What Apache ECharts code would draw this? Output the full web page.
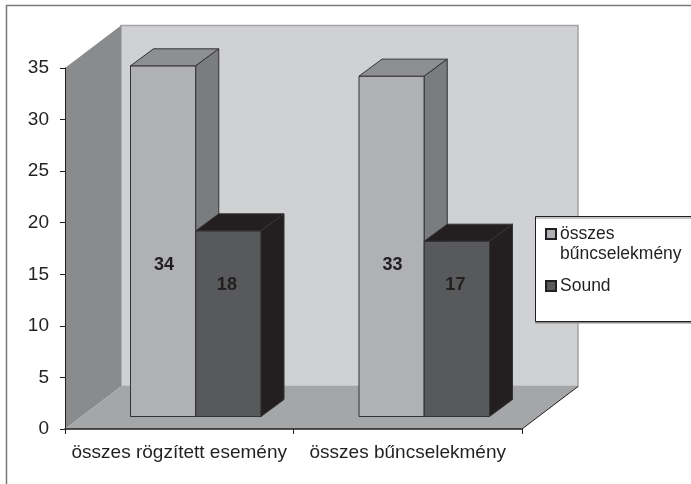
<!DOCTYPE html>
<html>
<head>
<meta charset="utf-8">
<style>
  html, body { margin: 0; padding: 0; background: #fff; }
  #chart { width: 691px; height: 484px; }
</style>
</head>
<body>
<div id="chart"></div>
<script src="https://cdn.jsdelivr.net/npm/echarts@6/dist/echarts.min.js"></script>
<script>
var categories = ['összes rögzített esemény', 'összes bűncselekmény'];
var buncselekmeny = [34, 33];
var sound = [18, 17];
var yTicks = { min: 0, max: 35, interval: 5 };

// 3d look, all in px
var WALL_DX = 56, WALL_DY = 42.5;
var BAR_SHIFT_X = 16.5, BAR_SHIFT_Y = 12.5;
var BAR_DX = 23, BAR_DY = 17;
var FONT = '"Liberation Sans", Arial, sans-serif';
var INK = '#231f20';

function poly(points, fill, stroke, lineWidth) {
  return {
    type: 'polygon',
    shape: { points: points },
    style: { fill: fill, stroke: stroke || 'none', lineWidth: lineWidth || 0 }
  };
}

function renderWalls(params, api) {
  var g = params.coordSys;
  var l = g.x, t = g.y, r = g.x + g.width, b = g.y + g.height;
  return {
    type: 'group',
    children: [
      poly([[l + WALL_DX, t - WALL_DY], [r + WALL_DX, t - WALL_DY], [r + WALL_DX, b - WALL_DY], [l + WALL_DX, b - WALL_DY]], '#d0d1d3', '#a3a4a6', 1.5),
      poly([[l, t], [l + WALL_DX, t - WALL_DY], [l + WALL_DX, b - WALL_DY], [l, b]], '#8a8b8d'),
      poly([[l, b], [l + WALL_DX, b - WALL_DY], [r + WALL_DX, b - WALL_DY], [r, b]], '#a5a6a8'),
      { type: 'line', shape: { x1: r, y1: b, x2: r + WALL_DX, y2: b - WALL_DY }, style: { stroke: INK, lineWidth: 1 } }
    ]
  };
}

// slot 0 is the left bar of the band, slot 1 the right one
function barRenderer(slot, colors, labelY, labelDx) {
  return function (params, api) {
    var base = api.coord([api.value(0), 0]);
    var top = api.coord([api.value(0), api.value(1)]);
    var w = api.size([1, 0])[0] * 0.2856;
    var x1 = base[0] + BAR_SHIFT_X - w + slot * w;
    var x2 = x1 + w;
    var y1 = top[1] - BAR_SHIFT_Y;
    var y2 = base[1] - BAR_SHIFT_Y;
    return {
      type: 'group',
      children: [
        poly([[x1, y1], [x2, y1], [x2, y2], [x1, y2]], colors.front, colors.edge, 1),
        poly([[x1, y1], [x1 + BAR_DX, y1 - BAR_DY], [x2 + BAR_DX, y1 - BAR_DY], [x2, y1]], colors.top, colors.edge, 1),
        poly([[x2, y1], [x2 + BAR_DX, y1 - BAR_DY], [x2 + BAR_DX, y2 - BAR_DY], [x2, y2]], colors.side, colors.edge, 1),
        {
          type: 'text',
          style: {
            text: String(api.value(1)),
            x: (x1 + x2) / 2 + labelDx,
            y: labelY,
            align: 'center',
            verticalAlign: 'middle',
            fill: INK,
            font: 'bold 18px ' + FONT
          }
        }
      ]
    };
  };
}

function toPoints(values) {
  return values.map(function (v, i) { return [i, v]; });
}

var chart = echarts.init(document.getElementById('chart'));

chart.setOption({
  animation: false,
  backgroundColor: '#fff',
  textStyle: { fontFamily: FONT },
  grid: { left: 65, top: 68, width: 457, height: 361 },
  xAxis: {
    type: 'category',
    data: categories,
    z: 3,
    axisLine: { lineStyle: { color: INK, width: 1.5 } },
    axisTick: { show: true, alignWithLabel: false, length: 5, lineStyle: { color: INK } },
    axisLabel: { color: INK, fontSize: 19, margin: 14, fontFamily: FONT, interval: 0 },
    splitLine: { show: false }
  },
  yAxis: {
    type: 'value',
    min: yTicks.min,
    max: yTicks.max,
    interval: yTicks.interval,
    z: 3,
    axisLine: { show: true, lineStyle: { color: INK, width: 1 } },
    axisTick: { show: true, length: 5, lineStyle: { color: INK } },
    axisLabel: { color: INK, fontSize: 19, margin: 16, fontFamily: FONT, padding: [5, 0, 0, 0] },
    splitLine: { show: false }
  },
  legend: {
    data: ['összes bűncselekmény', 'Sound'],
    orient: 'vertical',
    left: 545,
    top: 204,
    padding: 0,
    itemGap: 12,
    itemWidth: 10,
    itemHeight: 10,
    icon: 'rect',
    z: 6,
    selectedMode: false,
    formatter: function (name) {
      return name.indexOf(' ') > 0 ? '\n' + name.replace(' ', '\n') : name;
    },
    textStyle: { color: INK, fontSize: 17.5, lineHeight: 20, fontFamily: FONT, padding: [0, 0, 0, -1] }
  },
  graphic: [
    {
      type: 'polyline',
      z: 5,
      shape: { points: [[6.5, 490], [6.5, 5.5], [700, 5.5]] },
      style: { fill: 'none', stroke: '#77787a', lineWidth: 1.5 }
    },
    {
      type: 'rect',
      z: 5,
      shape: { x: 535.5, y: 216.5, width: 200, height: 105 },
      style: { fill: '#fff', stroke: INK, lineWidth: 1, shadowColor: '#8a8b8d', shadowOffsetY: 1.5, shadowBlur: 0 }
    }
  ],
  series: [
    {
      type: 'custom',
      name: 'walls',
      z: 1,
      silent: true,
      renderItem: renderWalls,
      data: [[0, 0]]
    },
    {
      type: 'custom',
      name: 'összes bűncselekmény',
      z: 4,
      itemStyle: { color: '#b0b1b4', borderColor: INK, borderWidth: 1 },
      renderItem: barRenderer(0, { front: '#b0b1b4', top: '#8e8f91', side: '#7b7c7e', edge: '#333335' }, 265, 1),
      data: toPoints(buncselekmeny)
    },
    {
      type: 'custom',
      name: 'Sound',
      z: 4,
      itemStyle: { color: '#58595b', borderColor: INK, borderWidth: 1 },
      renderItem: barRenderer(1, { front: '#58595b', top: INK, side: INK, edge: '#333335' }, 285, -1.5),
      data: toPoints(sound)
    }
  ]
});
</script>
</body>
</html>
